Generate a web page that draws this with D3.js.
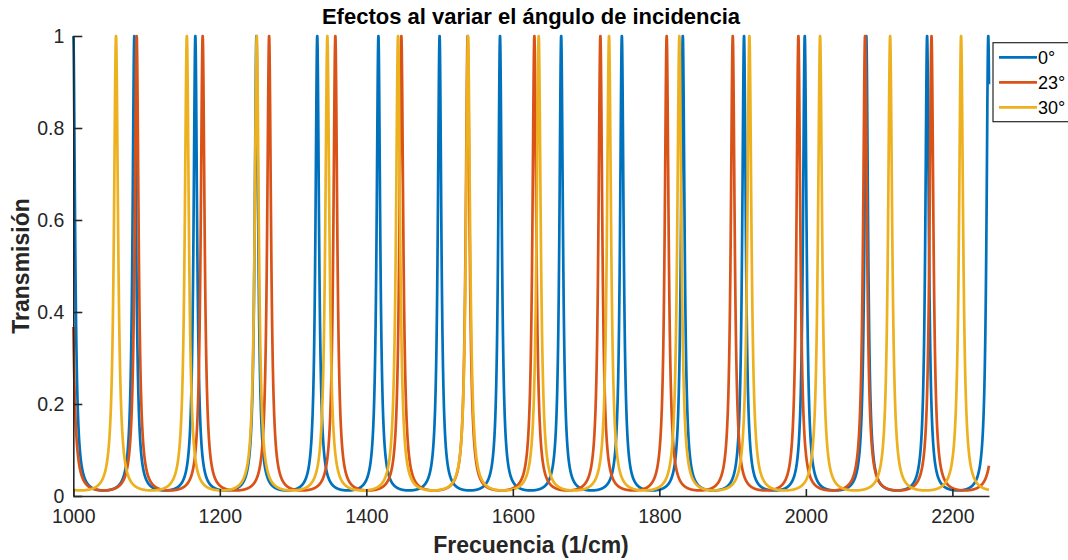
<!DOCTYPE html>
<html>
<head>
<meta charset="utf-8">
<script src="https://cdn.jsdelivr.net/npm/d3@7"></script>
<style>
  html, body { margin: 0; padding: 0; background: #fff; }
  svg { display: block; font-family: "Liberation Sans", Arial, sans-serif; }
</style>
</head>
<body>
<svg id="chart" width="1068" height="560"></svg>
<script>
// ---- Data ----
const seriesNames = ["0°", "23°", "30°"];
const seriesColors = ["#0072BD", "#D95319", "#EDB120"];
// Transmission peak centres (1/cm), including neighbours just outside the plotted range
const peaks0 = [916.7, 1000, 1083.3, 1166.6, 1250, 1333, 1416.5, 1500, 1582.5, 1666, 1748.8, 1832, 1915.6, 1998.5, 2082.5, 2165.5, 2249, 2332];
const peaks23 = [905.3, 995.9, 1086.5, 1176.6, 1267.3, 1357.7, 1447.8, 1538.3, 1629.4, 1719.5, 1810, 1900.2, 1989.8, 2080.8, 2171.5, 2262.3];
const peaks30 = [962.2, 1058.3, 1155, 1250.4, 1346.8, 1443.3, 1538.8, 1635.3, 1731.3, 1827.3, 1922.9, 2019.4, 2115, 2211.9, 2308];
// Coefficient of finesse (sets the minimum transmission ≈ 0.012 and the peak width)
const finesseF = 82;
const xTicks = [1000, 1200, 1400, 1600, 1800, 2000, 2200];
const yTicks = [0, 0.2, 0.4, 0.6, 0.8, 1];
const xDomain = [1000, 2250];
const yDomain = [0, 1];

// Airy transmission between consecutive peaks
function transmissionCurve(peaks) {
  const pts = [];
  for (let i = 0; i < peaks.length - 1; i++) {
    const a = peaks[i], b = peaks[i + 1];
    const n = Math.ceil((b - a) / 0.1);
    for (let k = 0; k < n; k++) {
      const xv = a + (b - a) * k / n;
      if (xv < xDomain[0] || xv > xDomain[1]) continue;
      const s = Math.sin(Math.PI * (xv - a) / (b - a));
      pts.push([xv, 1 / (1 + finesseF * s * s)]);
    }
  }
  return pts;
}
const allPeaks = [peaks0, peaks23, peaks30];

// ---- Layout ----
const svg = d3.select("#chart");
const mLeft = 73.3, mRight = 989, mTop = 36, mBottom = 496;
const x = d3.scaleLinear().domain(xDomain).range([mLeft, mRight]);
const y = d3.scaleLinear().domain(yDomain).range([mBottom, mTop]);
const axisColor = "#262626";

svg.append("defs").append("clipPath").attr("id", "clip")
  .append("rect").attr("x", mLeft - 2).attr("y", mTop - 2).attr("width", mRight - mLeft + 4).attr("height", mBottom - mTop + 4);

// Lines
const line = d3.line().x(d => x(d[0])).y(d => y(d[1]));
const g = svg.append("g").attr("clip-path", "url(#clip)");
allPeaks.forEach((pk, i) => {
  g.append("path")
    .datum(transmissionCurve(pk))
    .attr("fill", "none")
    .attr("stroke", seriesColors[i])
    .attr("stroke-width", 2.7)
    .attr("stroke-linejoin", "round")
    .attr("d", line);
});

// Axes (MATLAB-style, ticks inward)
const xAxis = d3.axisBottom(x).tickValues(xTicks).tickSizeInner(-7).tickSizeOuter(0).tickFormat(d3.format("d"));
const yAxis = d3.axisLeft(y).tickValues(yTicks).tickSizeInner(-9).tickSizeOuter(0).tickPadding(9).tickFormat(d => d === 0 || d === 1 ? String(d) : d3.format(".1f")(d));

const gx = svg.append("g").attr("transform", `translate(0,${mBottom})`).call(xAxis);
const gy = svg.append("g").attr("transform", `translate(${mLeft},0)`).call(yAxis);
[gx, gy].forEach(ax => {
  ax.select(".domain").attr("stroke", axisColor).attr("stroke-width", 1.6);
  ax.selectAll(".tick line").attr("stroke", axisColor).attr("stroke-width", 1.6);
  ax.selectAll(".tick text").attr("fill", axisColor).style("font-size", "19.5px")
    .style("font-family", "'Liberation Sans', Arial, sans-serif");
});
gx.selectAll(".tick text").attr("dy", "0.71em").attr("y", 13);

// Titles
svg.append("text").attr("x", 531).attr("y", 24).attr("text-anchor", "middle")
  .style("font-size", "22px").style("font-weight", "bold").attr("fill", "#000")
  .text("Efectos al variar el ángulo de incidencia");
svg.append("text").attr("x", 531).attr("y", 553).attr("text-anchor", "middle")
  .style("font-size", "23px").style("font-weight", "bold").attr("fill", axisColor)
  .text("Frecuencia (1/cm)");
svg.append("text").attr("transform", `translate(29,266) rotate(-90)`).attr("text-anchor", "middle")
  .style("font-size", "23px").style("font-weight", "bold").attr("fill", axisColor)
  .text("Transmisión");

// Legend
const lg = svg.append("g");
lg.append("rect").attr("x", 993).attr("y", 42.7).attr("width", 80).attr("height", 79)
  .attr("fill", "#fff").attr("stroke", axisColor).attr("stroke-width", 1.2);
seriesNames.forEach((name, i) => {
  const yy = 57.3 + i * 25;
  lg.append("line").attr("x1", 999).attr("x2", 1037).attr("y1", yy).attr("y2", yy)
    .attr("stroke", seriesColors[i]).attr("stroke-width", 2.7);
  lg.append("text").attr("x", 1038).attr("y", yy).attr("dy", "0.36em")
    .style("font-size", "18px").attr("fill", "#000").text(name);
});
</script>
</body>
</html>
